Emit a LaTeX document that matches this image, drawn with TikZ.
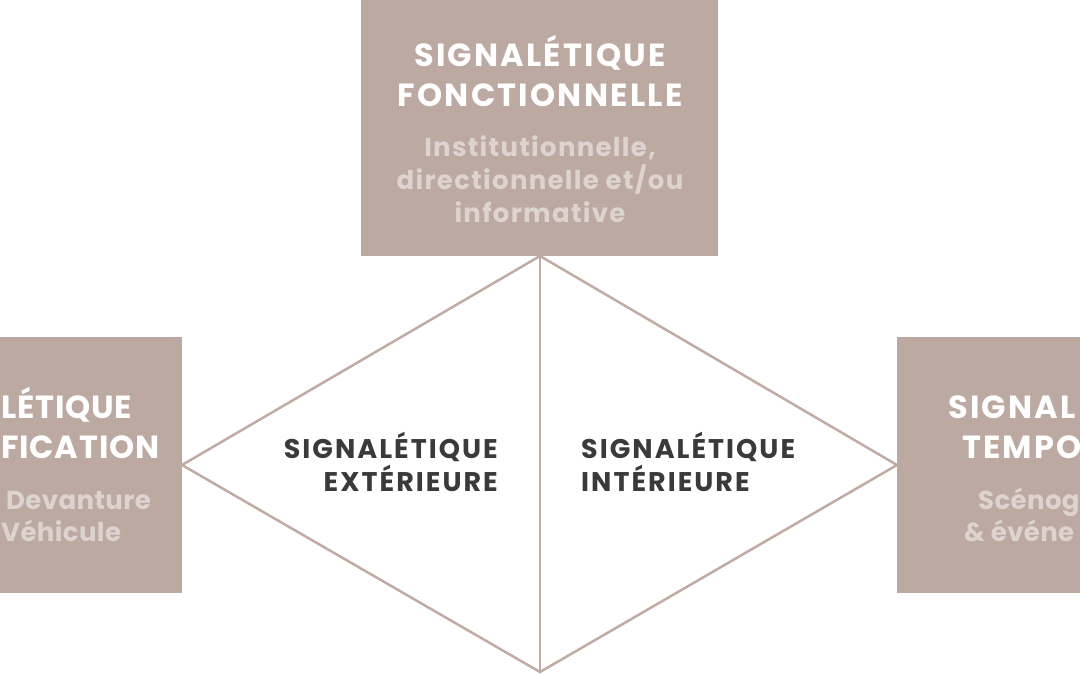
\documentclass[tikz,border=0pt]{standalone}
\usepackage{fontspec}
\setmainfont{Poppins}
\newfontfamily\titlefont{Poppins}[LetterSpace=7]
\newfontfamily\edgetitlefont{Poppins}[LetterSpace=2.5]
\newfontfamily\subfont{Poppins}[LetterSpace=5]
\newfontfamily\edgesubfont{Poppins}[LetterSpace=1.5]
\newfontfamily\centerfont{Poppins}[LetterSpace=7.5]
\definecolor{boxc}{HTML}{BCA9A2}
\definecolor{subc}{HTML}{DDD3CF}
\definecolor{linec}{HTML}{C2AAA5}
\definecolor{darkc}{HTML}{3A3A3A}
\begin{document}
\begin{tikzpicture}[x=1pt,y=-1pt,
  panel/.style={fill=boxc,draw=none,inner sep=0pt,minimum width=357pt,minimum height=256pt},
  titletxt/.style={text=white,font=\titlefont\bfseries\fontsize{32}{40}\selectfont,inner sep=0pt},
  edgetitle/.style={text=white,font=\edgetitlefont\bfseries\fontsize{32}{40}\selectfont,inner sep=0pt},
  subtxt/.style={text=subc,font=\subfont\bfseries\fontsize{26}{33}\selectfont,inner sep=0pt},
  edgesub/.style={text=subc,font=\edgesubfont\bfseries\fontsize{26}{33}\selectfont,inner sep=0pt},
  centertxt/.style={text=darkc,font=\centerfont\bfseries\fontsize{27}{33}\selectfont,inner sep=0pt},
  edge/.style={draw=linec,line width=2.5pt,line join=miter}]
\useasboundingbox (0,0) rectangle (1080,675);
\clip (0,0) rectangle (1080,675);
% panels
\node[panel] (ptop) at (539.5,128) {};
\node[panel] (pleft) at (3.5,465) {};
\node[panel] (pright) at (1075.5,465) {};
% diamond vertices
\coordinate (dt) at (540,256);
\coordinate (dl) at (182,465);
\coordinate (dr) at (897,465);
\coordinate (db) at (540,672);
\draw[edge] (dt) -- (dl) -- (db) -- (dr) -- cycle;
\draw[edge] (dt) -- (db);
% top panel texts
\node[titletxt,align=center] (ttitle) at (540,71) {SIGNALÉTIQUE\\FONCTIONNELLE};
\node[subtxt,align=center] (tsub) at (540,179) {Institutionnelle,\\directionnelle et/ou\\informative};
% left panel texts
\node[edgetitle,anchor=base west] (l1) at (1,418) {LÉTIQUE};
\node[edgetitle,anchor=base west] (l2) at (1,458) {FICATION};
\node[edgesub,anchor=base west] (l3) at (6,509) {Devanture};
\node[edgesub,anchor=base west] (l4) at (1,541) {Véhicule};
% right panel texts
\node[titletxt,anchor=base west] (r1) at (948,418) {SIGNAL};
\node[titletxt,anchor=base west] (r2) at (962,458) {TEMPO};
\node[edgesub,anchor=base west] (r3) at (978,509) {Scénog};
\node[edgesub,anchor=base west] (r4) at (964,541) {\& événe};
% centre texts
\node[centertxt,align=right,anchor=east] (cext) at (498,462) {SIGNALÉTIQUE\\EXTÉRIEURE};
\node[centertxt,align=left,anchor=west] (cint) at (581,462) {SIGNALÉTIQUE\\INTÉRIEURE};
\end{tikzpicture}
\end{document}
